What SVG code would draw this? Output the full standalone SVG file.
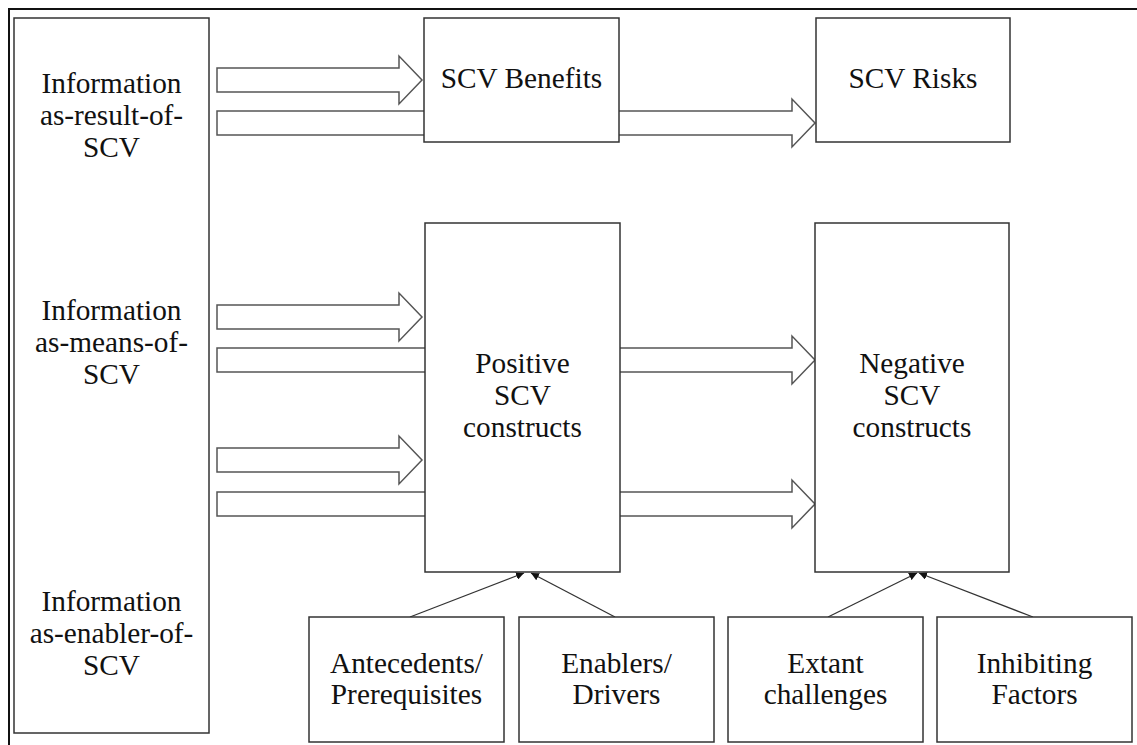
<svg xmlns="http://www.w3.org/2000/svg" width="1137" height="745" viewBox="0 0 1137 745">
<defs>
<style>
.box{fill:#fff;stroke:#333;stroke-width:1.5}
.blk{fill:#fff;stroke:#555;stroke-width:1.5;stroke-linejoin:miter}
.ln{stroke:#333;stroke-width:1.3;fill:none}
.t text{font-size:29.3px;fill:#111;text-anchor:middle}
</style>
<marker id="ah" viewBox="0 0 10 10" refX="10" refY="5" markerWidth="8" markerHeight="8" markerUnits="userSpaceOnUse" orient="auto">
<path d="M0,0 L10,5 L0,10 Z" fill="#111"/>
</marker>
</defs>
<rect width="1137" height="745" fill="#fff"/>
<path d="M9,745 V9 H1137" fill="none" stroke="#111" stroke-width="2"/>
<g id="connectors">
<path class="blk" d="M217,68 H399 V56 L422,80 L399,104 V92 H217 Z"/>
<path class="blk" d="M217,111 H792 V99 L815,123 L792,147 V135 H217 Z"/>
<path class="blk" d="M217,305 H399 V293 L422,317 L399,341 V329 H217 Z"/>
<path class="blk" d="M217,348 H792 V336 L815,360 L792,384 V372 H217 Z"/>
<path class="blk" d="M217,448 H399 V436 L422,460 L399,484 V472 H217 Z"/>
<path class="blk" d="M217,492 H792 V480 L815,504 L792,528 V516 H217 Z"/>
<line class="ln" x1="410" y1="617" x2="524" y2="573" marker-end="url(#ah)"/>
<line class="ln" x1="615" y1="617" x2="531" y2="573" marker-end="url(#ah)"/>
<line class="ln" x1="828" y1="617" x2="917" y2="573" marker-end="url(#ah)"/>
<line class="ln" x1="1033" y1="617" x2="919" y2="573" marker-end="url(#ah)"/>
</g>
<g class="t" font-family="'Liberation Serif', 'Times New Roman', 'DejaVu Serif', serif">
<g id="info">
<rect class="box" x="14" y="18" width="195" height="715"/>
<text x="111.5" y="93">Information</text>
<text x="111.5" y="125">as-result-of-</text>
<text x="111.5" y="157">SCV</text>
<text x="111.5" y="320">Information</text>
<text x="111.5" y="352">as-means-of-</text>
<text x="111.5" y="384">SCV</text>
<text x="111.5" y="611">Information</text>
<text x="111.5" y="643">as-enabler-of-</text>
<text x="111.5" y="675">SCV</text>
</g>
<g id="benefits">
<rect class="box" x="424" y="18" width="195" height="124"/>
<text x="521.5" y="88">SCV Benefits</text>
</g>
<g id="risks">
<rect class="box" x="816" y="18" width="194" height="124"/>
<text x="913" y="88">SCV Risks</text>
</g>
<g id="positive">
<rect class="box" x="425" y="223" width="195" height="349"/>
<text x="522.5" y="373">Positive</text>
<text x="522.5" y="405">SCV</text>
<text x="522.5" y="437">constructs</text>
</g>
<g id="negative">
<rect class="box" x="815" y="223" width="194" height="349"/>
<text x="912" y="373">Negative</text>
<text x="912" y="405">SCV</text>
<text x="912" y="437">constructs</text>
</g>
<g id="antecedents">
<rect class="box" x="309" y="617" width="195" height="125"/>
<text x="406.5" y="673">Antecedents/</text>
<text x="406.5" y="704">Prerequisites</text>
</g>
<g id="enablers">
<rect class="box" x="519" y="617" width="195" height="125"/>
<text x="616.5" y="673">Enablers/</text>
<text x="616.5" y="704">Drivers</text>
</g>
<g id="extant">
<rect class="box" x="728" y="617" width="195" height="125"/>
<text x="825.5" y="673">Extant</text>
<text x="825.5" y="704">challenges</text>
</g>
<g id="inhibiting">
<rect class="box" x="937" y="617" width="195" height="125"/>
<text x="1034.5" y="673">Inhibiting</text>
<text x="1034.5" y="704">Factors</text>
</g>
</g>
</svg>
